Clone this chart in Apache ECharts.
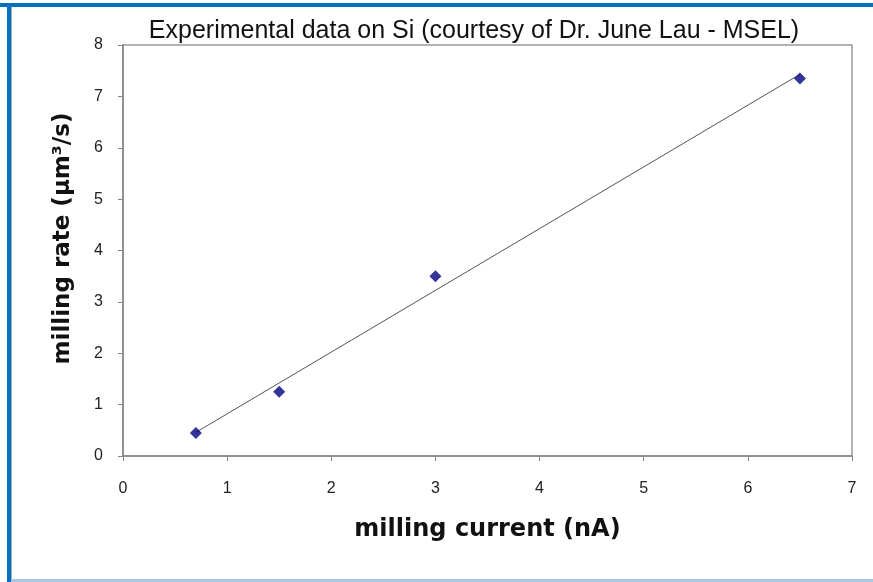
<!DOCTYPE html>
<html>
<head>
<meta charset="utf-8">
<script src="https://cdn.jsdelivr.net/npm/echarts@6/dist/echarts.min.js"></script>
<style>
  html, body { margin: 0; padding: 0; background: #fff; }
  #chart { width: 873px; height: 582px; }
</style>
</head>
<body>
<div id="chart"></div>
<script>
// measured points (milling current nA, milling rate um^3/s)
const currentNA = [0.7, 1.5, 3.0, 6.5];
const rateUm3s = [0.45, 1.25, 3.5, 7.35];
// linear trend line end points
const trendX = [0.7, 6.5];
const trendY = [0.46, 7.43];
const xTicks = [0, 1, 2, 3, 4, 5, 6, 7];
const yTicks = [0, 1, 2, 3, 4, 5, 6, 7, 8];

const chart = echarts.init(document.getElementById('chart'));

const axisGray = '#858585';
const labelStyle = { color: '#222', fontFamily: 'Liberation Sans', fontSize: 16 };

chart.setOption({
  animation: false,
  backgroundColor: '#fff',
  title: {
    text: 'Experimental data on Si (courtesy of Dr. June Lau - MSEL)',
    left: 469,
    top: 14,
    textAlign: 'center',
    textStyle: { fontFamily: 'Liberation Sans', fontSize: 25, fontWeight: 'normal', color: '#111' }
  },
  grid: { left: 123, right: 21, top: 45, bottom: 126, show: true, borderColor: '#999', borderWidth: 1.5 },
  xAxis: {
    type: 'value',
    min: xTicks[0],
    max: xTicks[xTicks.length - 1],
    interval: 1,
    name: 'milling current (nA)',
    nameLocation: 'middle',
    nameGap: 62,
    nameTextStyle: { fontFamily: 'DejaVu Sans', fontWeight: 'bold', fontSize: 24, color: '#111', verticalAlign: 'top' },
    axisLine: { lineStyle: { color: axisGray, width: 1.5 } },
    axisTick: { show: true, inside: false, length: 5, lineStyle: { color: axisGray } },
    axisLabel: Object.assign({ margin: 25 }, labelStyle),
    splitLine: { show: false }
  },
  yAxis: {
    type: 'value',
    min: yTicks[0],
    max: yTicks[yTicks.length - 1],
    interval: 1,
    name: 'milling rate (µm³/s)',
    nameLocation: 'middle',
    nameGap: 48,
    nameRotate: 90,
    nameTextStyle: { fontFamily: 'DejaVu Sans', fontWeight: 'bold', fontSize: 23, color: '#111', verticalAlign: 'bottom', padding: [0, 0, 0, 24] },
    axisLine: { show: true, lineStyle: { color: axisGray, width: 1.5 } },
    axisTick: { show: true, inside: false, length: 5, lineStyle: { color: axisGray } },
    axisLabel: Object.assign({ margin: 20 }, labelStyle),
    splitLine: { show: false }
  },
  series: [
    {
      type: 'line',
      data: trendX.map((x, i) => [x, trendY[i]]),
      showSymbol: false,
      lineStyle: { color: '#555', width: 1 },
      z: 2
    },
    {
      type: 'scatter',
      data: currentNA.map((x, i) => [x, rateUm3s[i]]),
      symbol: 'diamond',
      symbolSize: 12,
      itemStyle: { color: '#000080' },
      z: 3
    }
  ],
  graphic: [
    { type: 'rect', shape: { x: 0, y: 3, width: 873, height: 4 }, style: { fill: '#0070c0' }, z: 10 },
    { type: 'rect', shape: { x: 7, y: 3, width: 4, height: 579 }, style: { fill: '#0070c0' }, z: 10 },
    { type: 'rect', shape: { x: 11, y: 7, width: 1, height: 575 }, style: { fill: '#a8a8a8' }, z: 10 },
    { type: 'rect', shape: { x: 11, y: 579, width: 862, height: 3 }, style: { fill: '#a9c8e6' }, z: 10 }
  ]
});
</script>
</body>
</html>
